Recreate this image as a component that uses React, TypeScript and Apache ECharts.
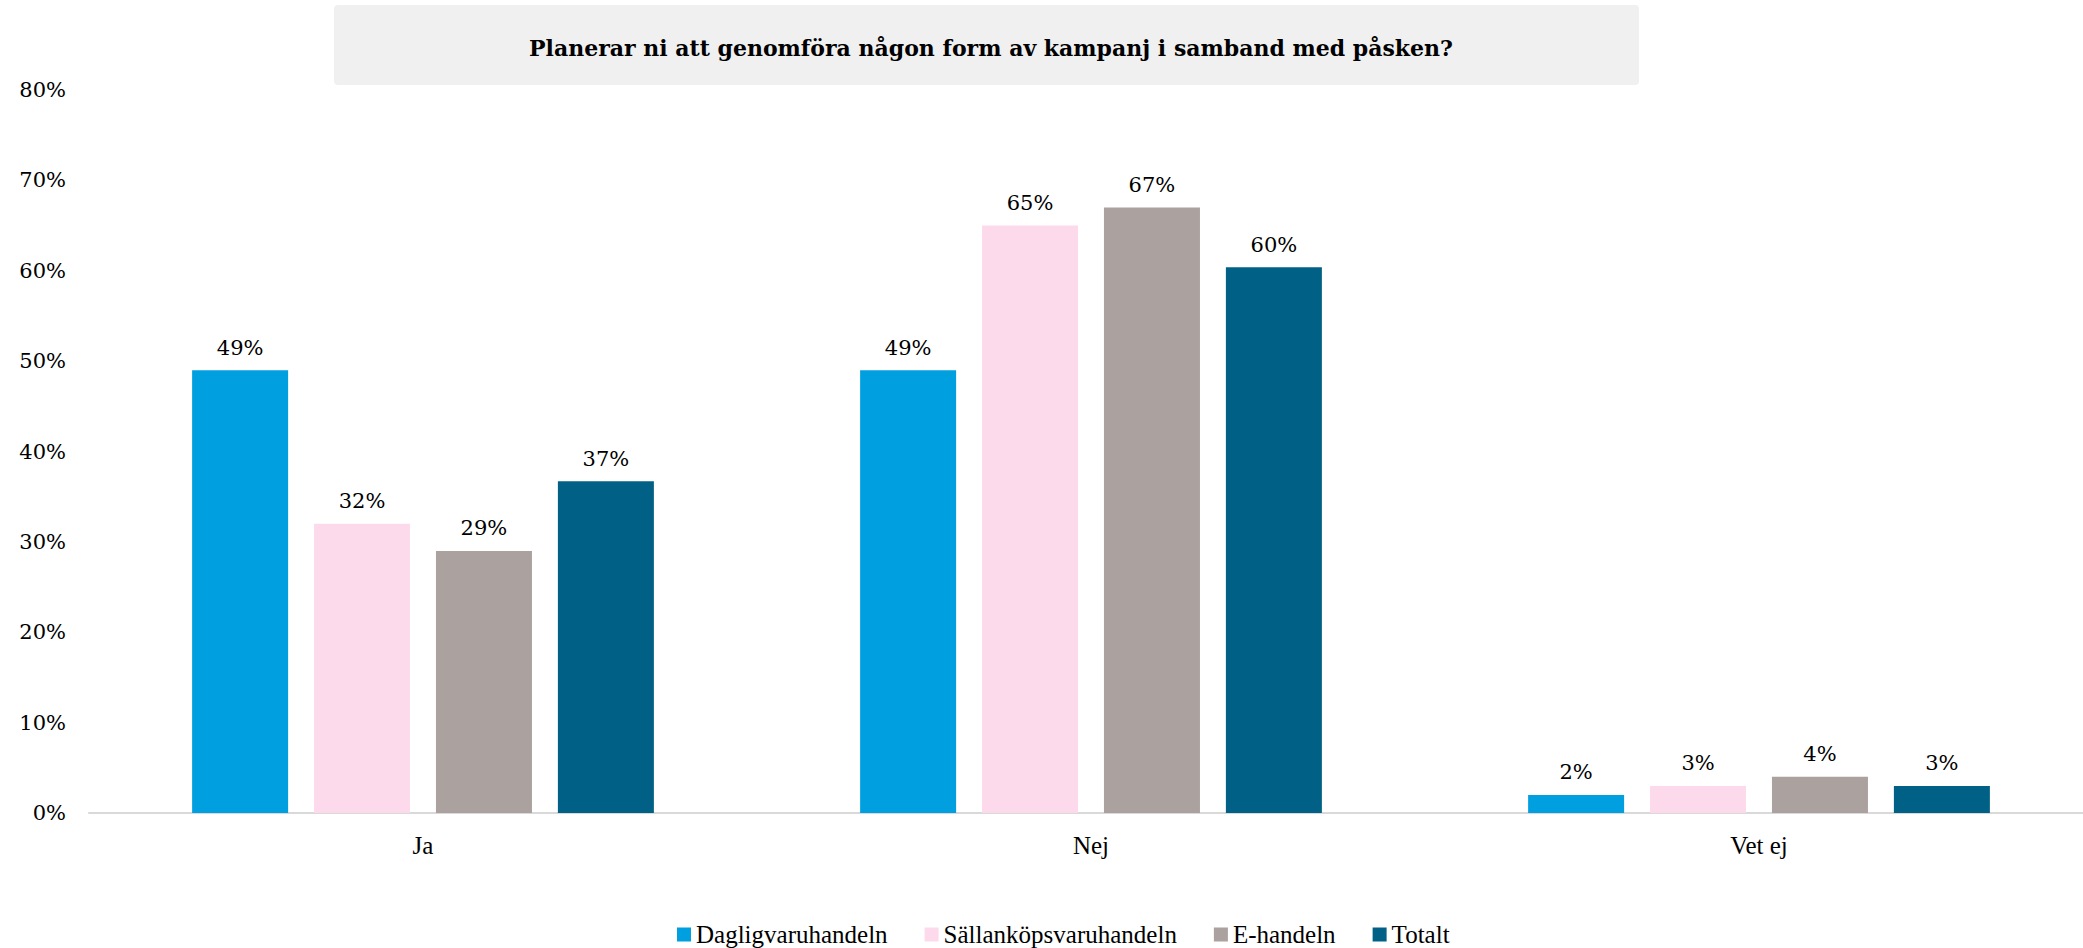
import React, { useEffect, useRef } from "react";
import * as echarts from "echarts";

const categories = ["Ja", "Nej", "Vet ej"];
const seriesNames = ["Dagligvaruhandeln", "Sällanköpsvaruhandeln", "E-handeln", "Totalt"];
const dagligvaruhandeln = [49, 49, 2];
const sallankopsvaruhandeln = [32, 65, 3];
const ehandeln = [29, 67, 4];
const totalt = [36.7, 60.4, 3];
const colors = ["#009FDF", "#FDDAEB", "#ABA19E", "#006085"];
const titleText = "Planerar ni att genomföra någon form av kampanj i samband med påsken?";

export default function App() {
  const ref = useRef<HTMLDivElement>(null);
  useEffect(() => {
    if (!ref.current) return;
    const chart = echarts.init(ref.current, undefined, { renderer: "svg" });
    const values = [dagligvaruhandeln, sallankopsvaruhandeln, ehandeln, totalt];
    const numFont = "'DejaVu Serif', Georgia, serif";
    const textFont = "'Liberation Serif', 'Times New Roman', serif";
    chart.setOption({
      animation: false,
      backgroundColor: "#ffffff",
      color: colors,
      title: {
        text: titleText,
        left: 986,
        top: 32,
        textAlign: "center",
        textStyle: { fontFamily: numFont, fontWeight: "bold", fontSize: 22, color: "#000000" },
      },
      graphic: [
        {
          type: "rect",
          z: -10,
          shape: { x: 334, y: 5, width: 1305, height: 80, r: 4 },
          style: { fill: "#F0F0F0" },
        },
      ],
      legend: {
        data: seriesNames,
        left: 672,
        top: 917,
        icon: "rect",
        itemWidth: 14,
        itemHeight: 14,
        itemGap: 37,
        textStyle: { fontFamily: textFont, fontSize: 25, color: "#000000" },
      },
      grid: { left: 89, top: 90, width: 2004, height: 723, containLabel: false },
      xAxis: {
        type: "category",
        data: categories,
        axisLine: { show: true, lineStyle: { color: "#D9D9D9", width: 2 } },
        axisTick: { show: false },
        axisLabel: { fontFamily: textFont, fontSize: 25, color: "#000000", margin: 20 },
      },
      yAxis: {
        type: "value",
        min: 0,
        max: 80,
        interval: 10,
        axisLine: { show: false },
        axisTick: { show: false },
        splitLine: { show: false },
        axisLabel: {
          formatter: "{value}%",
          fontFamily: numFont,
          fontSize: 21,
          color: "#000000",
          margin: 23,
        },
      },
      series: seriesNames.map((name, i) => ({
        name,
        type: "bar",
        data: values[i],
        barWidth: 96,
        barGap: "27%",
        itemStyle: { color: colors[i] },
        label: {
          show: true,
          position: "top",
          distance: 12,
          fontFamily: numFont,
          fontSize: 21,
          color: "#000000",
          formatter: (p: any) => Math.round(p.value) + "%",
        },
      })),
    });
    return () => chart.dispose();
  }, []);
  return (
    <div
      style={{ position: "fixed", left: 0, top: 0, width: 2083, height: 948, overflow: "hidden", background: "#fff" }}
    >
      <div ref={ref} style={{ width: 2100, height: 948 }} />
    </div>
  );
}
